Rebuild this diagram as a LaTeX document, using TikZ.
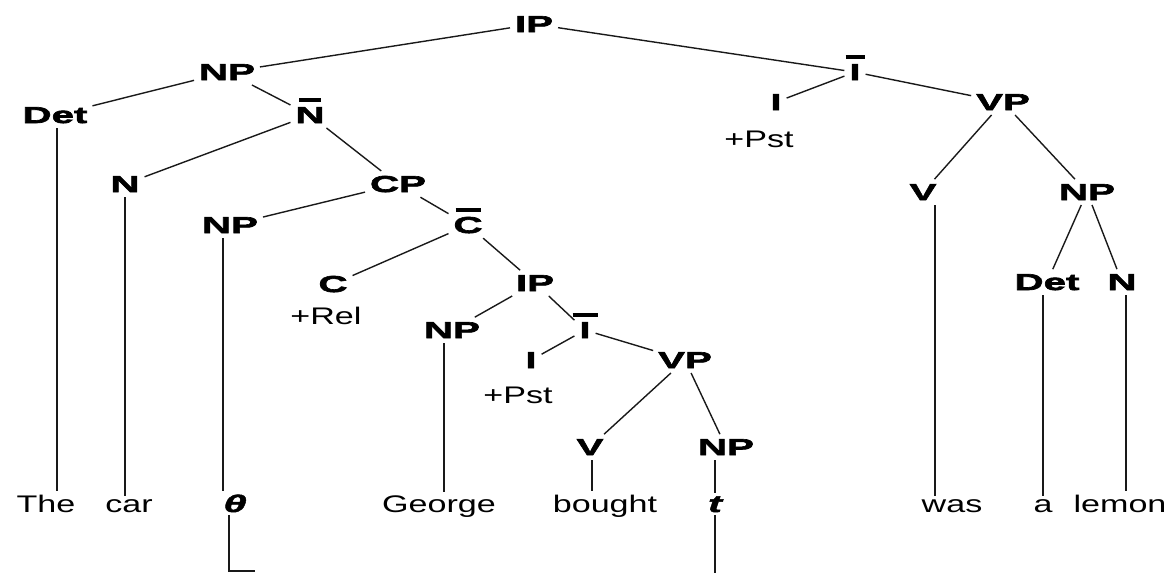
\documentclass[tikz,border=0pt]{standalone}
\usepackage{fontspec}
\setmainfont{Liberation Sans}[FakeStretch=1.42]
\newfontfamily\labfont{Liberation Sans}[FakeStretch=1.75,
  BoldFeatures={FakeBold=2.8}, BoldItalicFeatures={FakeBold=2}]

\tikzset{
  lab/.style={font={\labfont\bfseries\fontsize{23pt}{26pt}\selectfont},
    anchor=base, inner sep=3pt, outer sep=2pt},
  feat/.style={font={\fontsize{24pt}{28pt}\selectfont}, anchor=base,
    inner sep=2pt},
  word/.style={font={\fontsize{24pt}{28pt}\selectfont}, anchor=base,
    inner sep=3pt},
  trace/.style={font={\labfont\bfseries\itshape\fontsize{24pt}{27pt}\selectfont},
    anchor=base, inner sep=3pt},
  branch/.style={line width=1.4pt, draw=black!90},
  xbar/.style={line width=3.5pt, draw=black},
}

\begin{document}
\begin{tikzpicture}[x=1pt, y=-1pt]
\useasboundingbox (0,0) rectangle (1176,573);

% ---- category labels ----
\node[lab] (IP)   at (534,32)  {IP};
\node[lab] (NPa)  at (227,80)  {NP};
\node[lab] (Ib)   at (855,80)  {I};
\node[lab] (Deta) at (55,123)  {Det};
\node[lab] (Nb)   at (310,123) {N};
\node[lab] (Ia)   at (776,110) {I};
\node[feat] (pst1) at (759,147) {+Pst};
\node[lab] (VPa)  at (1003,110) {VP};
\node[lab] (Na)   at (125,192) {N};
\node[lab] (CP)   at (398,192) {CP};
\node[lab] (Va)   at (923,200) {V};
\node[lab] (NPb)  at (1087,200) {NP};
\node[lab] (NPc)  at (230,233) {NP};
\node[lab] (Cb)   at (468,233) {C};
\node[lab] (C)    at (333,292) {C};
\node[feat] (rel) at (326,324) {+Rel};
\node[lab] (IPb)  at (535,291) {IP};
\node[lab] (Detb) at (1047,290) {Det};
\node[lab] (Nc)   at (1122,290) {N};
\node[lab] (NPd)  at (452,338) {NP};
\node[lab] (Ic)   at (585,338) {I};
\node[lab] (Id)   at (531,368) {I};
\node[feat] (pst2) at (518,403) {+Pst};
\node[lab] (VPb)  at (685,368) {VP};
\node[lab] (Vb)   at (590,455) {V};
\node[lab] (NPe)  at (726,455) {NP};

% bars marking the intermediate (bar-level) projections
\foreach \n/\w in {Ib/19, Nb/22, Cb/25, Ic/25}
  \draw[xbar] ([xshift={-0.5pt*\w}, yshift=2pt]\n.north) -- ++(\w,0);

% ---- terminal words ----
\node[word]  (The)    at (46,512)   {The};
\node[word]  (car)    at (129,512)  {car};
\node[trace] (theta)  at (235,512)  {θ};
\node[word]  (George) at (439,512)  {George};
\node[word]  (bought) at (605,512)  {bought};
\node[trace] (t)      at (715,512)  {t};
\node[word]  (was)    at (952,512)  {was};
\node[word]  (a)      at (1043,512) {a};
\node[word]  (lemon)  at (1120,512) {lemon};

% ---- branches ----
\foreach \p/\c in {IP/NPa, IP/Ib, NPa/Deta, NPa/Nb, Nb/Na, Nb/CP,
                   Ib/Ia, Ib/VPa, VPa/Va, VPa/NPb, NPb/Detb, NPb/Nc,
                   CP/NPc, CP/Cb, Cb/C, Cb/IPb, IPb/NPd, IPb/Ic,
                   Ic/Id, Ic/VPb, VPb/Vb, VPb/NPe}
  \draw[branch] (\p) -- (\c);

% ---- lines down to the words ----
\draw[branch] ([xshift=2pt]Deta.south) -- ([xshift=2pt]Deta.south |- The.north);
\draw[branch] (Na.south) -- (Na.south |- car.north);
\draw[branch] ([xshift=-7pt]NPc.south) -- ([xshift=-7pt]NPc.south |- theta.north);
\draw[branch] ([xshift=-8pt]NPd.south) -- ([xshift=-8pt]NPd.south |- George.north);
\draw[branch] ([xshift=2pt]Vb.south) -- ([xshift=2pt]Vb.south |- bought.north);
\draw[branch] (t.north |- NPe.south) -- (t.north);
\draw[branch] ([xshift=12pt]Va.south) -- ([xshift=12pt]Va.south |- was.north);
\draw[branch] (a.north |- Detb.south) -- (a.north);
\draw[branch] ([xshift=4pt]Nc.south) -- ([xshift=4pt]Nc.south |- lemon.north);

% ---- trace link running below the sentence ----
\coordinate (hook) at (255,571);
\coordinate (tend) at (715,575);
\draw[branch] ([xshift=-6pt]theta.south) |- (hook);
\draw[branch] (t.south) -- (t.south |- tend);
\end{tikzpicture}
\end{document}
